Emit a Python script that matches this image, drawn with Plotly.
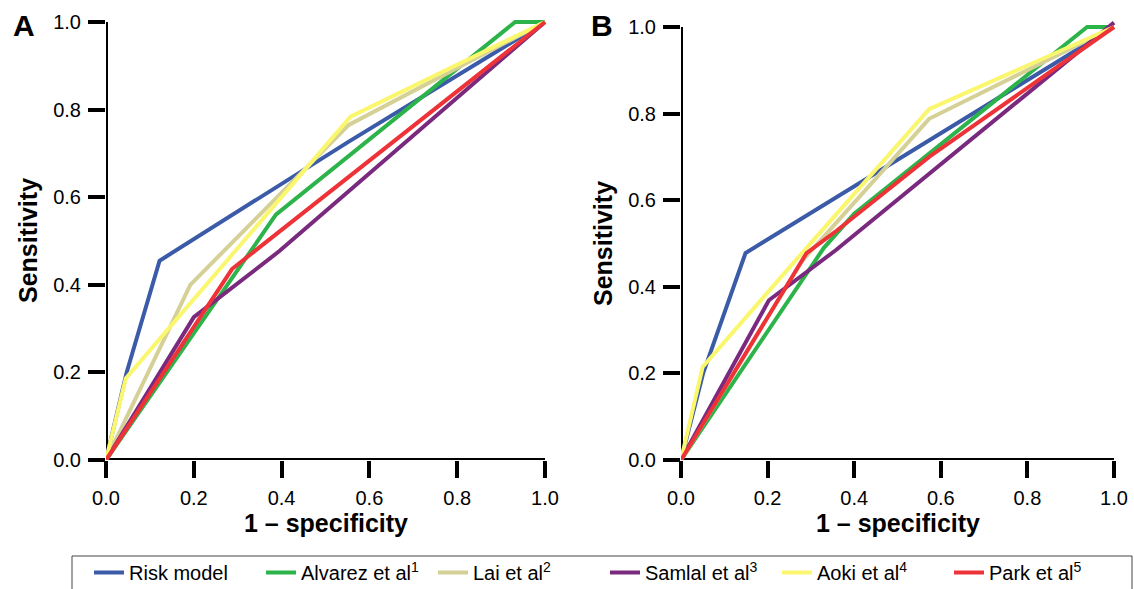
import plotly.graph_objects as go

names = ["Risk model", "Alvarez et al<sup>1</sup>", "Lai et al<sup>2</sup>",
         "Samlal et al<sup>3</sup>", "Aoki et al<sup>4</sup>", "Park et al<sup>5</sup>"]
colors = ["#3b5ba8", "#2cb34a", "#d4d096", "#7a2a7e", "#faf76e", "#ee3338"]

# Panel A: 1 - specificity (x) and sensitivity (y)
a_risk_x = [0, 0.047, 0.122, 0.553, 1.0]
a_risk_y = [0, 0.20, 0.455, 0.727, 1.0]
a_alv_x = [0, 0.387, 0.932, 1.0]
a_alv_y = [0, 0.56, 1.0, 1.0]
a_lai_x = [0, 0.192, 0.553, 1.0]
a_lai_y = [0, 0.40, 0.765, 1.0]
a_sam_x = [0, 0.20, 0.395, 1.0]
a_sam_y = [0, 0.326, 0.477, 1.0]
a_aoki_x = [0, 0.045, 0.557, 1.0]
a_aoki_y = [0, 0.186, 0.784, 1.0]
a_park_x = [0, 0.287, 1.0]
a_park_y = [0, 0.436, 1.0]

# Panel B
b_risk_x = [0, 0.051, 0.149, 0.573, 1.0]
b_risk_y = [0, 0.20, 0.478, 0.738, 1.0]
b_alv_x = [0, 0.33, 0.40, 0.938, 1.0]
b_alv_y = [0, 0.49, 0.569, 1.0, 1.0]
b_lai_x = [0, 0.28, 0.573, 1.0]
b_lai_y = [0, 0.46, 0.788, 1.0]
b_sam_x = [0, 0.203, 0.358, 1.0]
b_sam_y = [0, 0.369, 0.485, 1.01]
b_aoki_x = [0, 0.05, 0.29, 0.573, 1.0]
b_aoki_y = [0, 0.215, 0.49, 0.81, 1.0]
b_park_x = [0, 0.29, 0.36, 0.573, 1.0]
b_park_y = [0, 0.478, 0.53, 0.70, 1.0]

tick_vals = [0, 0.2, 0.4, 0.6, 0.8, 1.0]
tick_text = ["0.0", "0.2", "0.4", "0.6", "0.8", "1.0"]

panel_a = [(a_risk_x, a_risk_y), (a_alv_x, a_alv_y), (a_lai_x, a_lai_y),
           (a_sam_x, a_sam_y), (a_aoki_x, a_aoki_y), (a_park_x, a_park_y)]
panel_b = [(b_risk_x, b_risk_y), (b_alv_x, b_alv_y), (b_lai_x, b_lai_y),
           (b_sam_x, b_sam_y), (b_aoki_x, b_aoki_y), (b_park_x, b_park_y)]

W, H = 1134, 589
fig = go.Figure()
for i, (x, y) in enumerate(panel_a):
    fig.add_trace(go.Scatter(x=x, y=y, mode="lines", name=names[i],
                             line=dict(color=colors[i], width=4),
                             xaxis="x", yaxis="y", legendgroup=str(i)))
for i, (x, y) in enumerate(panel_b):
    fig.add_trace(go.Scatter(x=x, y=y, mode="lines", name=names[i],
                             line=dict(color=colors[i], width=4),
                             xaxis="x2", yaxis="y2", legendgroup=str(i),
                             showlegend=False))

font_family = "Liberation Sans, Arial, sans-serif"
axis_common = dict(tickvals=tick_vals, ticktext=tick_text, ticks="outside",
                   ticklen=17, tickwidth=4, tickcolor="black", showgrid=False,
                   zeroline=False, showline=False, ticklabelstandoff=3,
                   tickfont=dict(family=font_family, size=20, color="black"))

# Panel geometry (pixels)
ax0, ax1 = 106, 545
ay0, ay1 = 460, 22
bx0, bx1 = 681, 1114
by0, by1 = 460, 27
xpad, ypad = 1.01, 1.03

fig.update_layout(
    width=W, height=H, plot_bgcolor="white", paper_bgcolor="white",
    margin=dict(l=0, r=0, t=0, b=0, autoexpand=False),
    xaxis=dict(domain=[ax0 / W, (ax0 + (ax1 - ax0) * xpad) / W], range=[0, xpad],
               anchor="y", **axis_common),
    yaxis=dict(domain=[1 - ay0 / H, 1 - (ay0 - (ay0 - ay1) * ypad) / H], range=[0, ypad],
               anchor="x", **axis_common),
    xaxis2=dict(domain=[bx0 / W, (bx0 + (bx1 - bx0) * xpad) / W], range=[0, xpad],
                anchor="y2", **axis_common),
    yaxis2=dict(domain=[1 - by0 / H, 1 - (by0 - (by0 - by1) * ypad) / H], range=[0, ypad],
                anchor="x2", **axis_common),
    showlegend=True,
    legend=dict(orientation="h", x=89 / W, y=1 - 553 / H, xanchor="left", yanchor="top",
                borderwidth=0, bgcolor="rgba(0,0,0,0)",
                entrywidth=127, entrywidthmode="pixels",
                font=dict(family=font_family, size=20, color="black"),
                tracegroupgap=0),
)

# legend frame
fig.add_shape(type="rect", xref="paper", yref="paper",
              x0=72 / W, x1=1132 / W, y0=-0.05, y1=1 - 556 / H,
              line=dict(color="#444", width=1), fillcolor="rgba(0,0,0,0)", layer="below")

# axis lines from 0 to 1
for xr, yr in [("x", "y"), ("x2", "y2")]:
    fig.add_shape(type="line", xref=xr, yref=yr, x0=0, x1=0, y0=0, y1=1,
                  line=dict(color="black", width=4), layer="below")
    fig.add_shape(type="line", xref=xr, yref=yr, x0=0, x1=1, y0=0, y1=0,
                  line=dict(color="black", width=4), layer="below")

title_font = dict(family=font_family, size=25, color="black")
ann = [
    dict(text="<b>A</b>", x=24 / W, y=1 - 26 / H, font=dict(family=font_family, size=30, color="black")),
    dict(text="<b>B</b>", x=602 / W, y=1 - 26 / H, font=dict(family=font_family, size=30, color="black")),
    dict(text="<b>1 – specificity</b>", x=(ax0 + ax1) / 2 / W, y=1 - 523 / H, font=title_font),
    dict(text="<b>1 – specificity</b>", x=(bx0 + bx1) / 2 / W, y=1 - 523 / H, font=title_font),
    dict(text="<b>Sensitivity</b>", x=28 / W, y=1 - 241 / H, textangle=-90, font=title_font),
    dict(text="<b>Sensitivity</b>", x=603 / W, y=1 - 244 / H, textangle=-90, font=title_font),
]
for a in ann:
    fig.add_annotation(xref="paper", yref="paper", showarrow=False,
                       xanchor="center", yanchor="middle", **a)

fig.write_html("out.html", config={"displayModeBar": False},
               post_script="document.body.style.margin='0';document.body.style.overflow='hidden';")
